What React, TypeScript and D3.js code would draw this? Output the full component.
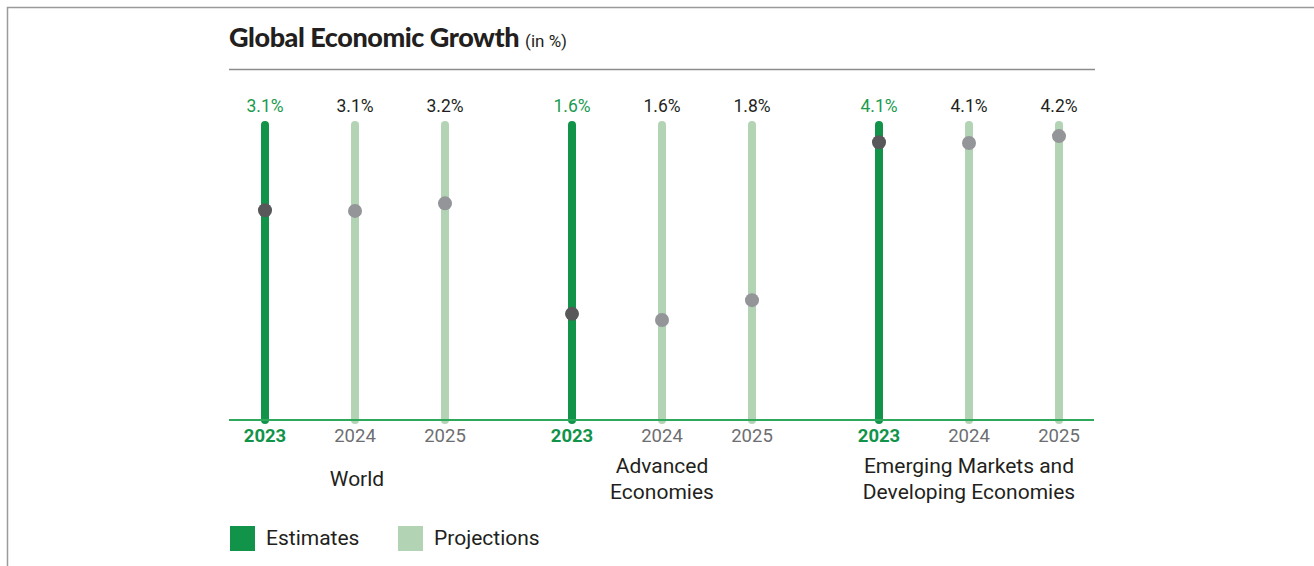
import React from "react";
import * as d3 from "d3";

const groups = ["World", "Advanced Economies", "Emerging Markets and Developing Economies"];
const groupLines = [["World"], ["Advanced", "Economies"], ["Emerging Markets and", "Developing Economies"]];
const years = ["2023", "2024", "2025"];
const worldValues = [3.1, 3.09, 3.2];
const advancedValues = [1.59, 1.5, 1.79];
const emdeValues = [4.09, 4.08, 4.18];
const worldLabels = ["3.1%", "3.1%", "3.2%"];
const advancedLabels = ["1.6%", "1.6%", "1.8%"];
const emdeLabels = ["4.1%", "4.1%", "4.2%"];
const legendItems = ["Estimates", "Projections"];

const values = [worldValues, advancedValues, emdeValues];
const labels = [worldLabels, advancedLabels, emdeLabels];

const DARK_GREEN = "#12934a";
const LIGHT_GREEN = "#b3d3b5";
const FONT = "Roboto, sans-serif";

export default function App() {
  const W = 1314, H = 566;
  const xg = d3.scalePoint<string>().domain(groups).range([265, 879]);
  const x1 = d3.scalePoint<string>().domain(years).range([0, 180]);
  const y = d3.scaleLinear().domain([0, 4.4]).range([423, 121]);
  const baseY = 420;

  const cx = (gi: number, yi: number) => (xg(groups[gi]) as number) + (x1(years[yi]) as number);

  return (
    <svg width={W} height={H} style={{ display: "block", position: "absolute", left: 0, top: 0 }}>
      <rect x={0} y={0} width={W} height={H} fill="#fff" />
      <rect x={7.5} y={7.5} width={W + 20} height={H + 20} fill="none" stroke="#9a9a9a" strokeWidth={1.5} />
      <text x={229} y={47} fontFamily="Lato, sans-serif" fontWeight={900} fontSize={27} fill="#231f20" letterSpacing={-0.45}>
        Global Economic Growth
        <tspan fontFamily={FONT} fontWeight={400} fontSize={17} letterSpacing={0} dx={6}>(in %)</tspan>
      </text>
      <line x1={229} x2={1095} y1={69.5} y2={69.5} stroke="#8c8c8c" strokeWidth={1.5} />
      {groups.map((g, gi) => (
        <g key={g}>
          {years.map((yr, yi) => {
            const x = cx(gi, yi);
            const est = yi === 0;
            const v = values[gi][yi];
            return (
              <g key={yr}>
                <line x1={x} x2={x} y1={y(4.4) + 4} y2={baseY} stroke={est ? DARK_GREEN : LIGHT_GREEN} strokeWidth={8} strokeLinecap="round" />
                <circle cx={x} cy={y(v)} r={7} fill={est ? "#58585b" : "#939598"} />
                <text x={x} y={112} textAnchor="middle" fontFamily={FONT} fontSize={17.5} fill={est ? "#1a9a4e" : "#231f20"}>
                  {labels[gi][yi]}
                </text>
                <text x={x} y={442} textAnchor="middle" fontFamily={FONT} fontSize={18.5} fontWeight={est ? 700 : 400} fill={est ? DARK_GREEN : "#6d6e71"}>
                  {yr}
                </text>
              </g>
            );
          })}
        </g>
      ))}
      <line x1={229} x2={1094} y1={baseY} y2={baseY} stroke="#2ea85a" strokeWidth={2} />
      {groupLines.map((lines, gi) => {
        const x = cx(gi, 1) + (gi === 0 ? 2 : 0);
        const startY = lines.length === 1 ? 486 : 473;
        return (
          <text key={gi} textAnchor="middle" fontFamily={FONT} fontSize={21} fill="#231f20">
            {lines.map((l, li) => (
              <tspan key={li} x={x} y={startY + li * 26}>{l}</tspan>
            ))}
          </text>
        );
      })}
      {legendItems.map((item, i) => {
        const lx = [230, 398][i];
        return (
          <g key={item}>
            <rect x={lx} y={526} width={25} height={25} fill={i === 0 ? DARK_GREEN : LIGHT_GREEN} />
            <text x={lx + 36} y={545} fontFamily={FONT} fontSize={21} fill="#231f20">{item}</text>
          </g>
        );
      })}
    </svg>
  );
}
